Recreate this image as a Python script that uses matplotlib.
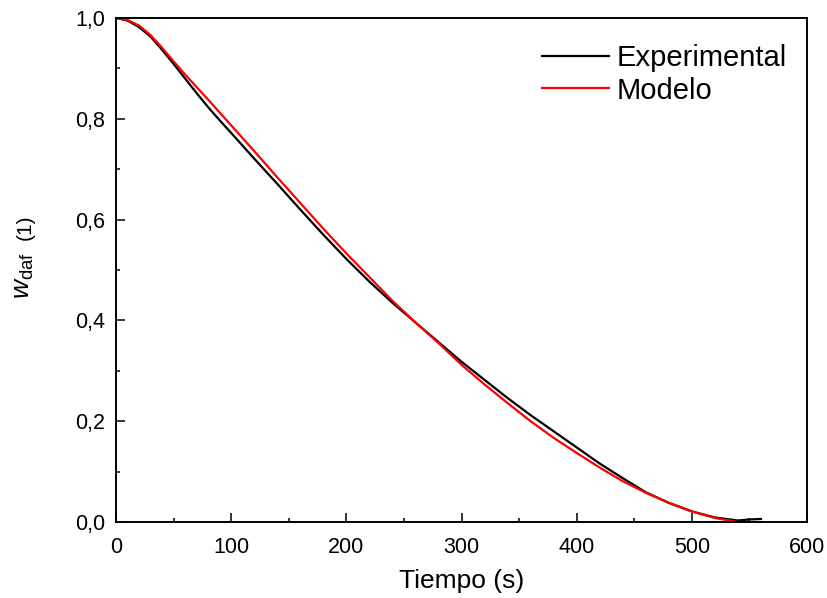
import matplotlib
matplotlib.use("Agg")
import matplotlib.pyplot as plt
from matplotlib.ticker import MultipleLocator, FuncFormatter

plt.rcParams['font.family'] = ['Liberation Sans', 'DejaVu Sans']
plt.rcParams['mathtext.fontset'] = 'custom'
plt.rcParams['mathtext.it'] = 'Liberation Sans:italic'
plt.rcParams['mathtext.rm'] = 'Liberation Sans'

# Experimental data
t_exp = [0, 10, 20, 30, 40, 50, 60, 70, 80, 90, 100, 120, 140, 160, 180, 200, 220, 240,
         260, 280, 300, 320, 340, 360, 380, 400, 420, 440, 460, 480, 500, 520, 540, 550, 560]
w_exp = [1.000, 0.995, 0.982, 0.963, 0.937, 0.909, 0.880, 0.851, 0.823, 0.797, 0.772,
         0.721, 0.671, 0.620, 0.570, 0.522, 0.477, 0.435, 0.396, 0.357, 0.318, 0.282,
         0.246, 0.212, 0.180, 0.148, 0.116, 0.087, 0.059, 0.038, 0.021, 0.009, 0.003,
         0.005, 0.006]

# Model data
t_mod = [0, 10, 20, 30, 40, 50, 60, 80, 100, 120, 140, 160, 180, 200, 220, 240, 260, 280,
         300, 320, 340, 360, 380, 400, 420, 440, 460, 480, 500, 520, 540]
w_mod = [1.000, 0.996, 0.985, 0.966, 0.941, 0.914, 0.888, 0.838, 0.787, 0.736, 0.684,
         0.633, 0.582, 0.533, 0.486, 0.439, 0.396, 0.355, 0.312, 0.273, 0.236, 0.200,
         0.167, 0.137, 0.108, 0.081, 0.058, 0.038, 0.021, 0.008, 0.000]

labels = ['Experimental', 'Modelo']

fig = plt.figure(figsize=(8.27, 5.98), dpi=100)
ax = fig.add_axes([116/827, 1-522/598, (807-116)/827, (522-18)/598])

ax.plot(t_exp, w_exp, color='black', lw=1.6, label=labels[0])
ax.plot(t_mod, w_mod, color='#ff0000', lw=1.6, label=labels[1])

ax.set_xlim(0, 600)
ax.set_ylim(0, 1.0)
ax.xaxis.set_major_locator(MultipleLocator(100))
ax.xaxis.set_minor_locator(MultipleLocator(50))
ax.yaxis.set_major_locator(MultipleLocator(0.2))
ax.yaxis.set_minor_locator(MultipleLocator(0.1))
ax.yaxis.set_major_formatter(FuncFormatter(lambda v, p: f"{v:.1f}".replace('.', ',')))

ax.tick_params(which='both', direction='in', width=1.1, top=False, right=False)
ax.tick_params(which='major', length=6.3, labelsize=15.5)
ax.tick_params(axis='x', which='major', pad=11)
ax.tick_params(axis='y', which='major', pad=8)
ax.tick_params(which='minor', length=2.7)
for s in ax.spines.values():
    s.set_linewidth(1.4)

ax.set_xlabel('Tiempo (s)', fontsize=19, labelpad=8)

fig.text(30/827, 1-299/598, r'$w_{\mathrm{daf}}$', rotation=90, rotation_mode='anchor',
         ha='left', va='baseline', fontsize=19)
fig.text(31/827, 1-240/598, '(1)', rotation=90, rotation_mode='anchor',
         ha='left', va='baseline', fontsize=15)

leg = ax.legend(loc='upper right', bbox_to_anchor=(787/827, 1-44/598),
                bbox_transform=fig.transFigure, frameon=False, fontsize=21,
                handlelength=2.3, handletextpad=0.27, borderpad=0, borderaxespad=0,
                labelspacing=0.16)

fig.savefig('out.png', dpi=100)
